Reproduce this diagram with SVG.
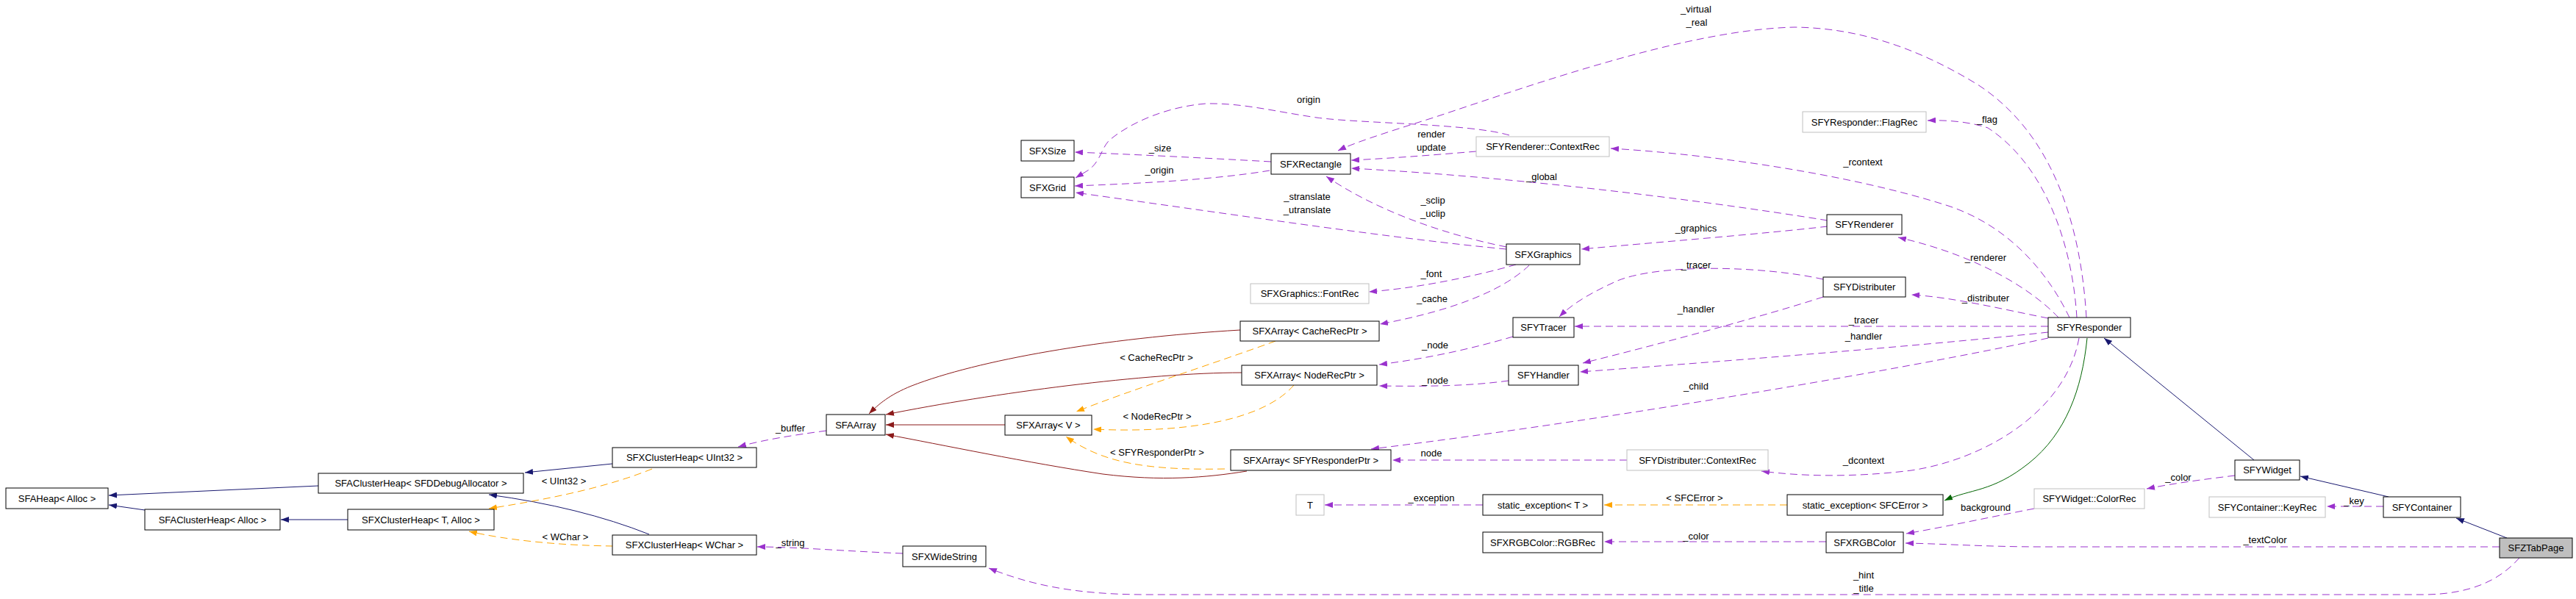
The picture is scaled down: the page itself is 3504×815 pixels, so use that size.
<svg xmlns="http://www.w3.org/2000/svg" width="3504" height="815" viewBox="0 0 3504 815">
<style>
.n rect{fill:#fff;stroke:#000;stroke-width:1}
.g rect{fill:#fff;stroke:#bfbfbf;stroke-width:1}
.h rect{fill:#bfbfbf;stroke:#000;stroke-width:1}
text{font-family:"Liberation Sans",Arial,sans-serif;font-size:13px;fill:#000;text-anchor:middle}
.e path{fill:none;stroke-width:1}
.nv{stroke:#191970;marker-end:url(#anv)}
.rd{stroke:#8b1a1a;marker-end:url(#ard)}
.gr{stroke:#006400;marker-end:url(#agr)}
.or{stroke:#ffa500;stroke-dasharray:10,6;marker-end:url(#aor)}
.pu{stroke:#9a32cd;stroke-dasharray:10,6;marker-end:url(#apu)}
</style>
<defs>
<marker id="anv" markerUnits="userSpaceOnUse" markerWidth="11" markerHeight="8" refX="11" refY="4" orient="auto"><path d="M0,0L11,4L0,8z" fill="#191970"/></marker>
<marker id="ard" markerUnits="userSpaceOnUse" markerWidth="11" markerHeight="8" refX="11" refY="4" orient="auto"><path d="M0,0L11,4L0,8z" fill="#8b1a1a"/></marker>
<marker id="agr" markerUnits="userSpaceOnUse" markerWidth="11" markerHeight="8" refX="11" refY="4" orient="auto"><path d="M0,0L11,4L0,8z" fill="#006400"/></marker>
<marker id="aor" markerUnits="userSpaceOnUse" markerWidth="11" markerHeight="8" refX="11" refY="4" orient="auto"><path d="M0,0L11,4L0,8z" fill="#ffa500"/></marker>
<marker id="apu" markerUnits="userSpaceOnUse" markerWidth="11" markerHeight="8" refX="11" refY="4" orient="auto"><path d="M0,0L11,4L0,8z" fill="#9a32cd"/></marker>
</defs>
<rect width="3504" height="815" fill="#fff"/>
<g id="edges" class="e">
<path class="nv" d="M433,661L148,674"/>
<path class="nv" d="M197,694L148,687"/>
<path class="nv" d="M473,707L382,707"/>
<path class="nv" d="M833,631L714,643"/>
<path class="nv" d="M883,727Q790,690 665,673"/>
<path class="nv" d="M3066,626L2862,460"/>
<path class="nv" d="M3249,676L3129,648"/>
<path class="nv" d="M3410,732L3341,705"/>
<path class="gr" d="M2839,460C2832,530 2810,590 2760,630S2680,665 2645,681"/>
<path class="rd" d="M1687,449C1500,460 1330,490 1240,525C1210,537 1195,550 1182,563"/>
<path class="rd" d="M1689,507C1560,507 1350,535 1205,564"/>
<path class="rd" d="M1367,578L1205,578"/>
<path class="rd" d="M1696,641C1640,650 1580,655 1500,645C1400,630 1280,605 1205,591"/>
<path class="or" d="M887,638C820,665 740,680 665,692"/>
<path class="or" d="M834,743C760,742 690,735 638,723"/>
<path class="or" d="M1735,464C1650,495 1540,530 1464,560"/>
<path class="or" d="M1760,524C1720,570 1620,590 1487,584"/>
<path class="or" d="M1666,638C1560,640 1500,630 1450,594"/>
<path class="or" d="M2431,687L2182,687"/>
<path class="pu" d="M1124,586C1080,592 1040,598 1004,608"/>
<path class="pu" d="M1228,753C1150,750 1080,744 1030,744"/>
<path class="pu" d="M3427,759C3400,790 3360,808 3300,809L1560,809C1460,809 1400,795 1345,773"/>
<path class="pu" d="M2053,184C2000,168 1850,168 1791,160C1730,151 1690,140 1640,141C1590,145 1540,165 1510,190C1498,200 1497,222 1478,233L1463,242"/>
<path class="pu" d="M2838,432C2830,300 2790,180 2690,115C2600,60 2520,38 2441,37C2300,40 2100,110 1950,160C1880,182 1840,195 1820,205"/>
<path class="pu" d="M2008,206C1960,210 1900,215 1838,218"/>
<path class="pu" d="M1729,220C1640,215 1540,210 1462,207"/>
<path class="pu" d="M1727,232C1650,245 1540,250 1462,253"/>
<path class="pu" d="M2049,339C1900,325 1700,295 1463,262"/>
<path class="pu" d="M2049,336C1960,318 1870,285 1804,240"/>
<path class="pu" d="M2486,300C2300,270 2050,240 1838,229"/>
<path class="pu" d="M2486,308C2400,318 2250,330 2151,339"/>
<path class="pu" d="M2815,432C2790,380 2740,310 2650,280C2500,232 2300,208 2191,202"/>
<path class="pu" d="M2825,432C2818,320 2775,220 2704,174C2680,166 2650,163 2622,164"/>
<path class="pu" d="M2800,432C2770,400 2700,350 2582,323"/>
<path class="pu" d="M2786,433C2720,420 2660,405 2600,401"/>
<path class="pu" d="M2480,380C2400,362 2260,358 2200,382C2165,398 2140,412 2121,431"/>
<path class="pu" d="M2080,361C2050,390 1990,420 1877,441"/>
<path class="pu" d="M2062,360C2010,375 1930,392 1862,397"/>
<path class="pu" d="M2058,458C2000,475 1940,488 1876,496"/>
<path class="pu" d="M2052,518C2000,525 1950,526 1876,525"/>
<path class="pu" d="M2786,444L2142,444"/>
<path class="pu" d="M2786,452C2600,472 2300,495 2149,506"/>
<path class="pu" d="M2480,404C2400,430 2250,470 2153,494"/>
<path class="pu" d="M2786,460C2600,500 2200,570 1865,611"/>
<path class="pu" d="M2213,626L1894,626"/>
<path class="pu" d="M2828,460C2810,560 2700,625 2600,640C2520,650 2450,648 2396,641"/>
<path class="pu" d="M2017,687L1802,687"/>
<path class="pu" d="M2484,737L2182,737"/>
<path class="pu" d="M2767,692C2700,705 2640,718 2593,726"/>
<path class="pu" d="M3400,744L2780,744C2700,744 2650,740 2592,739"/>
<path class="pu" d="M3040,647C3000,652 2960,657 2920,665"/>
<path class="pu" d="M3242,689L3165,689"/>
<text x="767" y="659">&lt; UInt32 &gt;</text>
<text x="769" y="735">&lt; WChar &gt;</text>
<text x="1573" y="491">&lt; CacheRecPtr &gt;</text>
<text x="1574" y="571">&lt; NodeRecPtr &gt;</text>
<text x="1574" y="620">&lt; SFYResponderPtr &gt;</text>
<text x="2305" y="682">&lt; SFCError &gt;</text>
<text x="1075" y="587">_buffer</text>
<text x="1075" y="743">_string</text>
<text x="2535" y="787">_hint</text>
<text x="2535" y="805">_title</text>
<text x="1780" y="140">origin</text>
<text x="2307" y="17">_virtual</text>
<text x="2308" y="35">_real</text>
<text x="1947" y="187">render</text>
<text x="1947" y="205">update</text>
<text x="1578" y="206">_size</text>
<text x="1577" y="236">_origin</text>
<text x="1778" y="272">_stranslate</text>
<text x="1778" y="290">_utranslate</text>
<text x="1949" y="277">_sclip</text>
<text x="1949" y="295">_uclip</text>
<text x="2097" y="245">_global</text>
<text x="2307" y="315">_graphics</text>
<text x="2534" y="225">_rcontext</text>
<text x="2703" y="167">_flag</text>
<text x="2701" y="355">_renderer</text>
<text x="2701" y="410">_distributer</text>
<text x="2307" y="365">_tracer</text>
<text x="1948" y="411">_cache</text>
<text x="1947" y="377">_font</text>
<text x="1952" y="474">_node</text>
<text x="1952" y="522">_node</text>
<text x="2535" y="440">_tracer</text>
<text x="2535" y="462">_handler</text>
<text x="2307" y="425">_handler</text>
<text x="2307" y="530">_child</text>
<text x="1947" y="621">node</text>
<text x="2535" y="631">_dcontext</text>
<text x="1947" y="682">_exception</text>
<text x="2307" y="734">_color</text>
<text x="2701" y="695">background</text>
<text x="3081" y="739">_textColor</text>
<text x="2963" y="654">_color</text>
<text x="3202" y="686">_key</text>
</g>
<g id="SFAHeap" class="n"><rect x="8" y="664" width="139" height="28"/><text x="77.5" y="682.5">SFAHeap&lt; Alloc &gt;</text></g>
<g id="SFAClusterHeapDebug" class="n"><rect x="433" y="644" width="279" height="27"/><text x="572.5" y="662">SFAClusterHeap&lt; SFDDebugAllocator &gt;</text></g>
<g id="SFAClusterHeapAlloc" class="n"><rect x="197" y="693" width="184" height="28"/><text x="289" y="711.5">SFAClusterHeap&lt; Alloc &gt;</text></g>
<g id="SFXClusterHeapT" class="n"><rect x="473" y="693" width="199" height="28"/><text x="572.5" y="711.5">SFXClusterHeap&lt; T, Alloc &gt;</text></g>
<g id="SFXClusterHeapUInt32" class="n"><rect x="833" y="609" width="196" height="27"/><text x="931" y="627">SFXClusterHeap&lt; UInt32 &gt;</text></g>
<g id="SFXClusterHeapWChar" class="n"><rect x="833" y="728" width="196" height="27"/><text x="931" y="746">SFXClusterHeap&lt; WChar &gt;</text></g>
<g id="SFAArray" class="n"><rect x="1124" y="564" width="80" height="28"/><text x="1164" y="582.5">SFAArray</text></g>
<g id="SFXWideString" class="n"><rect x="1228" y="743" width="113" height="28"/><text x="1284.5" y="761.5">SFXWideString</text></g>
<g id="SFXArrayV" class="n"><rect x="1367" y="565" width="118" height="27"/><text x="1426" y="583">SFXArray&lt; V &gt;</text></g>
<g id="SFXArrayCache" class="n"><rect x="1687" y="437" width="189" height="27"/><text x="1781.5" y="455">SFXArray&lt; CacheRecPtr &gt;</text></g>
<g id="SFXArrayNode" class="n"><rect x="1689" y="497" width="184" height="27"/><text x="1781" y="515">SFXArray&lt; NodeRecPtr &gt;</text></g>
<g id="SFXArrayResp" class="n"><rect x="1674" y="612" width="218" height="28"/><text x="1783" y="630.5">SFXArray&lt; SFYResponderPtr &gt;</text></g>
<g id="T" class="g"><rect x="1763" y="673" width="38" height="28"/><text x="1782" y="691.5">T</text></g>
<g id="SFXSize" class="n"><rect x="1389" y="191" width="72" height="28"/><text x="1425" y="209.5">SFXSize</text></g>
<g id="SFXGrid" class="n"><rect x="1389" y="241" width="72" height="28"/><text x="1425" y="259.5">SFXGrid</text></g>
<g id="SFXRectangle" class="n"><rect x="1729" y="209" width="108" height="28"/><text x="1783" y="227.5">SFXRectangle</text></g>
<g id="FontRec" class="g"><rect x="1701" y="386" width="161" height="27"/><text x="1781.5" y="404">SFXGraphics::FontRec</text></g>
<g id="RendererContextRec" class="g"><rect x="2008" y="186" width="181" height="27"/><text x="2098.5" y="204">SFYRenderer::ContextRec</text></g>
<g id="FlagRec" class="g"><rect x="2452" y="152" width="168" height="28"/><text x="2536" y="170.5">SFYResponder::FlagRec</text></g>
<g id="SFYRenderer" class="n"><rect x="2485" y="292" width="102" height="27"/><text x="2536" y="310">SFYRenderer</text></g>
<g id="SFXGraphics" class="n"><rect x="2049" y="332" width="100" height="28"/><text x="2099" y="350.5">SFXGraphics</text></g>
<g id="SFYDistributer" class="n"><rect x="2480" y="377" width="112" height="27"/><text x="2536" y="395">SFYDistributer</text></g>
<g id="SFYTracer" class="n"><rect x="2058" y="432" width="83" height="27"/><text x="2099.5" y="450">SFYTracer</text></g>
<g id="SFYHandler" class="n"><rect x="2052" y="497" width="95" height="27"/><text x="2099.5" y="515">SFYHandler</text></g>
<g id="DistContextRec" class="g"><rect x="2213" y="612" width="192" height="28"/><text x="2309" y="630.5">SFYDistributer::ContextRec</text></g>
<g id="StaticExceptionT" class="n"><rect x="2017" y="673" width="163" height="28"/><text x="2098.5" y="691.5">static_exception&lt; T &gt;</text></g>
<g id="StaticExceptionSFCError" class="n"><rect x="2431" y="673" width="212" height="28"/><text x="2537" y="691.5">static_exception&lt; SFCError &gt;</text></g>
<g id="RGBRec" class="n"><rect x="2017" y="724" width="163" height="28"/><text x="2098.5" y="742.5">SFXRGBColor::RGBRec</text></g>
<g id="SFXRGBColor" class="n"><rect x="2484" y="724" width="105" height="28"/><text x="2536.5" y="742.5">SFXRGBColor</text></g>
<g id="SFYResponder" class="n"><rect x="2786" y="432" width="112" height="27"/><text x="2842" y="450">SFYResponder</text></g>
<g id="SFYWidget" class="n"><rect x="3040" y="626" width="88" height="27"/><text x="3084" y="644">SFYWidget</text></g>
<g id="WidgetColorRec" class="g"><rect x="2767" y="665" width="150" height="27"/><text x="2842" y="683">SFYWidget::ColorRec</text></g>
<g id="KeyRec" class="g"><rect x="3005" y="676" width="158" height="28"/><text x="3084" y="694.5">SFYContainer::KeyRec</text></g>
<g id="SFYContainer" class="n"><rect x="3242" y="676" width="105" height="28"/><text x="3294.5" y="694.5">SFYContainer</text></g>
<g id="SFZTabPage" class="h"><rect x="3400" y="732" width="99" height="27"/><text x="3449.5" y="750">SFZTabPage</text></g>
</svg>
